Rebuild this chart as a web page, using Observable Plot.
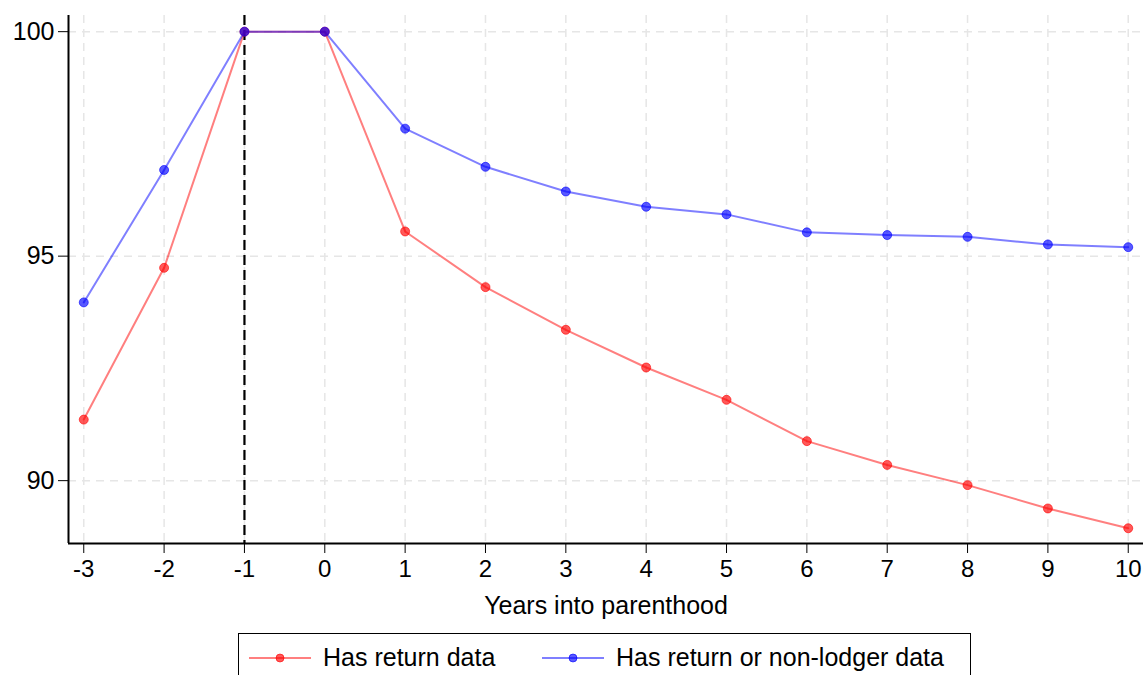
<!DOCTYPE html>
<html>
<head>
<meta charset="utf-8">
<script src="https://cdn.jsdelivr.net/npm/d3@7"></script>
<script src="https://cdn.jsdelivr.net/npm/@observablehq/plot@0.6"></script>
<style>
  body { margin: 0; background: #fff; font-family: "Liberation Sans", Arial, sans-serif; }
  #chart { position: absolute; left: 0; top: 0; }
  #legend { position: absolute; left: 238px; top: 633px; width: 733px; height: 60px;
            border: 1.5px solid #000; box-sizing: border-box; background: #fff; }
  .item { position: absolute; top: 9px; display: flex; align-items: center; font-size: 25px; color: #000; }
  .item svg { margin-right: 12px; }
</style>
</head>
<body>
<div id="chart"></div>
<div id="legend"></div>
<script>
const years = [-3, -2, -1, 0, 1, 2, 3, 4, 5, 6, 7, 8, 9, 10];
const returnData = [91.36, 94.74, 100, 100, 95.55, 94.31, 93.36, 92.52, 91.80, 90.88, 90.35, 89.90, 89.38, 88.94];
const returnOrNonLodger = [93.97, 96.92, 100, 100, 97.84, 96.99, 96.44, 96.10, 95.93, 95.53, 95.47, 95.43, 95.26, 95.20];
const seriesNames = ["Has return data", "Has return or non-lodger data"];
const seriesColors = ["#ff0000", "#0000ff"];
const yTicks = [90, 95, 100];
const xDomain = [-3.19, 10.19];
const yDomain = [88.6, 100.36];
const refYear = [-1];

const data = [];
seriesNames.forEach((name, i) => {
  const vals = i === 0 ? returnData : returnOrNonLodger;
  years.forEach((y, j) => data.push({series: name, year: y, value: vals[j]}));
});

const marks = [
  Plot.gridX(years, {stroke: "#e6e6e6", strokeOpacity: 1, strokeWidth: 1.5, strokeDasharray: "8,6"}),
  Plot.gridY(yTicks, {stroke: "#e6e6e6", strokeOpacity: 1, strokeWidth: 1.5, strokeDasharray: "8,6"}),
  Plot.ruleX(refYear, {stroke: "#000", strokeWidth: 2.2, strokeDasharray: "10,5"}),
];
seriesNames.forEach((name, i) => {
  const d = data.filter(r => r.series === name);
  marks.push(Plot.line(d, {x: "year", y: "value", stroke: seriesColors[i], strokeOpacity: 0.5, strokeWidth: 2}));
});
seriesNames.forEach((name, i) => {
  const d = data.filter(r => r.series === name);
  marks.push(Plot.dot(d, {x: "year", y: "value", r: 4.5, fill: seriesColors[i], fillOpacity: 0.65,
    stroke: seriesColors[i], strokeOpacity: 0.6, strokeWidth: 1}));
});
marks.push(
  Plot.ruleX([xDomain[0]], {stroke: "#000", strokeWidth: 2}),
  Plot.ruleY([yDomain[0]], {stroke: "#000", strokeWidth: 2}),
  Plot.axisX(years, {tickSize: 10, tickPadding: 6, tickFormat: d => d < 0 ? "-" + Math.abs(d) : String(d),
    label: null, fontSize: 24}),
  Plot.axisX({ticks: [], tickSize: 0, label: "Years into parenthood", labelAnchor: "center", labelArrow: "none",
    labelOffset: 70, fontSize: 25}),
  Plot.axisY(yTicks, {tickSize: 10, tickPadding: 4, label: null, fontSize: 25})
);

const chart = Plot.plot({
  width: 1148,
  height: 625,
  marginTop: 15,
  marginLeft: 68,
  marginRight: 5,
  marginBottom: 82,
  x: {domain: xDomain},
  y: {domain: yDomain},
  style: {fontFamily: "'Liberation Sans', Arial, sans-serif", fontSize: "24px", color: "#000", background: "#fff"},
  marks
});
document.getElementById("chart").appendChild(chart);

const legend = document.getElementById("legend");
const itemLefts = [10, 303];
seriesNames.forEach((name, i) => {
  const div = document.createElement("div");
  div.className = "item";
  div.style.left = itemLefts[i] + "px";
  div.innerHTML = `<svg width="62" height="20"><line x1="0" y1="10" x2="62" y2="10" stroke="${seriesColors[i]}" stroke-opacity="0.5" stroke-width="2"/>` +
    `<circle cx="31" cy="10" r="4" fill="${seriesColors[i]}" fill-opacity="0.65" stroke="${seriesColors[i]}" stroke-opacity="0.6"/></svg><span>${name}</span>`;
  legend.appendChild(div);
});
</script>
</body>
</html>
